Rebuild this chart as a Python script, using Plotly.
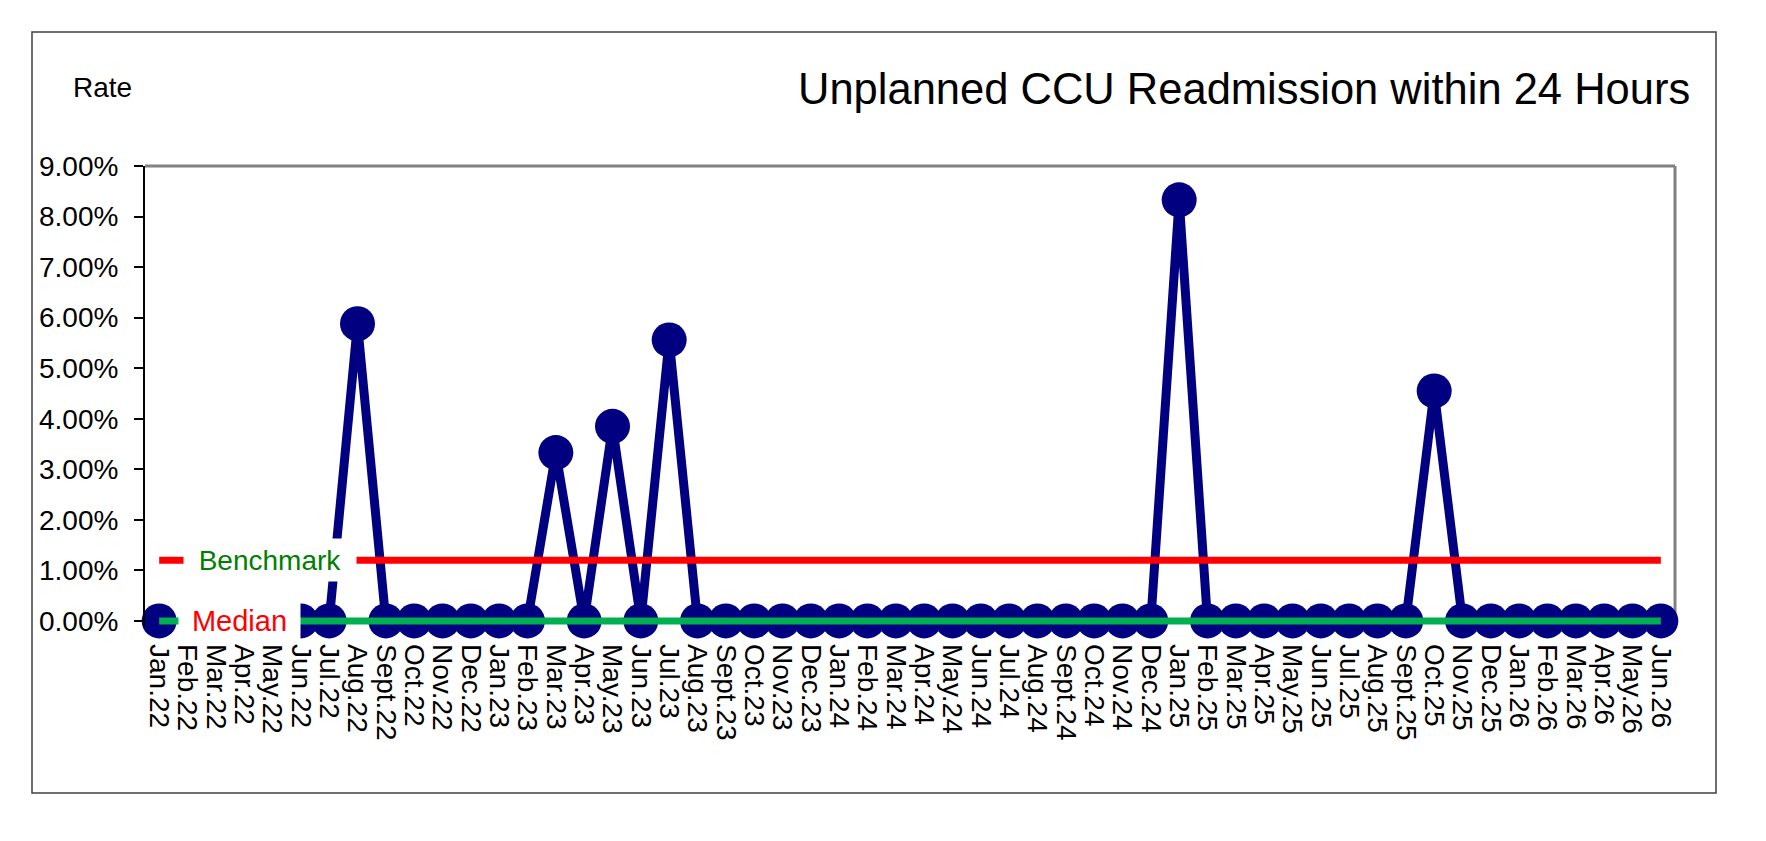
import plotly.graph_objects as go

# 月份標籤 (Jan.22 - Jun.26)
months = [
    'Jan.22', 'Feb.22', 'Mar.22', 'Apr.22', 'May.22', 'Jun.22', 'Jul.22', 'Aug.22', 'Sept.22', 'Oct.22', 'Nov.22', 'Dec.22',
    'Jan.23', 'Feb.23', 'Mar.23', 'Apr.23', 'May.23', 'Jun.23', 'Jul.23', 'Aug.23', 'Sept.23', 'Oct.23', 'Nov.23', 'Dec.23',
    'Jan.24', 'Feb.24', 'Mar.24', 'Apr.24', 'May.24', 'Jun.24', 'Jul.24', 'Aug.24', 'Sept.24', 'Oct.24', 'Nov.24', 'Dec.24',
    'Jan.25', 'Feb.25', 'Mar.25', 'Apr.25', 'May.25', 'Jun.25', 'Jul.25', 'Aug.25', 'Sept.25', 'Oct.25', 'Nov.25', 'Dec.25',
    'Jan.26', 'Feb.26', 'Mar.26', 'Apr.26', 'May.26', 'Jun.26',
]

# readmission rate (%), None = no data
rate = [
    0.0, None, None, None, None, 0.0, 0.0, 5.88, 0.0, 0.0, 0.0, 0.0,
    0.0, 0.0, 3.33, 0.0, 3.85, 0.0, 5.56, 0.0, 0.0, 0.0, 0.0, 0.0,
    0.0, 0.0, 0.0, 0.0, 0.0, 0.0, 0.0, 0.0, 0.0, 0.0, 0.0, 0.0,
    8.33, 0.0, 0.0, 0.0, 0.0, 0.0, 0.0, 0.0, 0.0, 4.55, 0.0, 0.0,
    0.0, 0.0, 0.0, 0.0, 0.0, 0.0,
]

benchmark = [1.2] * len(months)
median = [0.0] * len(months)

# y 軸刻度
y_ticks = [0, 1, 2, 3, 4, 5, 6, 7, 8, 9]
y_ticktext = ['%.2f%%' % v for v in y_ticks]

colors = {
    'rate': '#000080',
    'benchmark': '#FF0000',
    'median': '#00B050',
    'bench_text': '#008000',
}
font_family = 'Arial, Liberation Sans, sans-serif'

# 版面 (pixels)
W, H = 1766, 841
L, R, T, B = 137, 1667, 158, 619


def px_x(x):
    return (x - L) / (R - L)


def px_y(y):
    return (B - y) / (B - T)


fig = go.Figure()

fig.add_trace(go.Scatter(
    x=months, y=rate, mode='lines+markers', name='Rate',
    line=dict(color=colors['rate'], width=9),
    marker=dict(size=35, color=colors['rate']),
    cliponaxis=False,
))
fig.add_trace(go.Scatter(
    x=months, y=benchmark, mode='lines', name='Benchmark',
    line=dict(color=colors['benchmark'], width=7), cliponaxis=False,
))
fig.add_trace(go.Scatter(
    x=months, y=median, mode='lines', name='Median',
    line=dict(color=colors['median'], width=7), cliponaxis=False,
))

fig.update_layout(
    width=W, height=H,
    margin=dict(l=L, r=W - R, t=T, b=H - B),
    plot_bgcolor='white', paper_bgcolor='white',
    showlegend=False,
    font=dict(family=font_family, color='black'),
    xaxis=dict(
        type='category', tickangle=90, showgrid=False, zeroline=False,
        tickmode='array', tickvals=months, ticktext=months,
        tickfont=dict(size=28), ticks='', ticklabelstandoff=16,
        range=[-0.5, len(months) - 0.5],
    ),
    yaxis=dict(
        range=[-0.12, 9], tickmode='array', tickvals=y_ticks, ticktext=y_ticktext,
        showgrid=False, zeroline=False,
        showline=True, linecolor='black', linewidth=2,
        ticks='outside', ticklen=9, tickcolor='black', tickwidth=2,
        tickfont=dict(size=28), ticklabelstandoff=10,
    ),
    shapes=[
        # plot area border (gray top / right)
        dict(type='line', xref='paper', yref='paper', x0=0, x1=1, y0=1, y1=1,
             line=dict(color='#808080', width=3), layer='below'),
        dict(type='line', xref='paper', yref='paper', x0=1, x1=1, y0=0, y1=1,
             line=dict(color='#808080', width=3), layer='below'),
        # chart outer border
        dict(type='rect', xref='paper', yref='paper',
             x0=px_x(24), x1=px_x(1708), y0=px_y(785), y1=px_y(24),
             line=dict(color='#404040', width=1.5), layer='below'),
    ],
    annotations=[
        dict(text='Unplanned CCU Readmission within 24 Hours', xref='paper', yref='paper',
             x=px_x(1684), y=px_y(81), xanchor='right', yanchor='middle',
             showarrow=False, font=dict(size=43.5)),
        dict(text='Rate', xref='paper', yref='paper',
             x=px_x(94), y=px_y(80), xanchor='center', yanchor='middle',
             showarrow=False, font=dict(size=28)),
        dict(text='Benchmark', xref='x', yref='y', x=3.75, y=benchmark[0],
             xanchor='center', yanchor='middle', showarrow=False,
             font=dict(size=28, color=colors['bench_text']), xshift=5,
             bgcolor='white', width=172, height=42, borderpad=0),
        dict(text='Median', xref='x', yref='y', x=2.85, y=median[0],
             xanchor='center', yanchor='middle', showarrow=False,
             font=dict(size=29, color=colors['benchmark']),
             bgcolor='white', width=121, height=36, borderpad=0),
    ],
)

fig.write_html('out.html')
